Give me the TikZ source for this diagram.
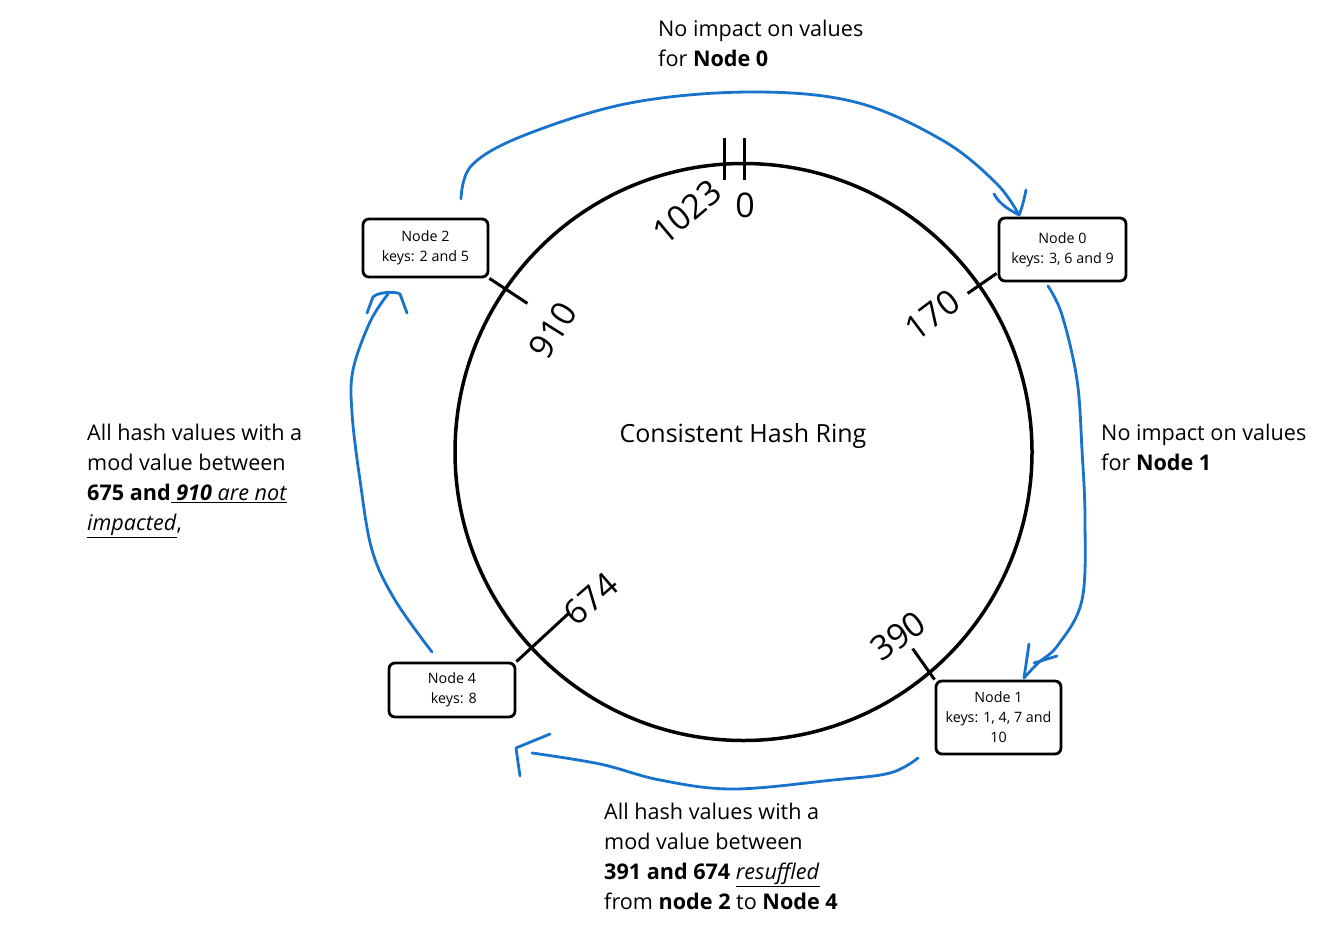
\documentclass[tikz,border=0pt]{standalone}
\usepackage{fontspec}
\setmainfont{Open Sans}
\definecolor{penblue}{RGB}{24,115,205}
\newcommand{\myul}[1]{\underline{#1}}
\begin{document}
\begin{tikzpicture}[x=1pt,y=-1pt,
  ring/.style={draw=black,line width=3.5pt,circle,minimum size=577pt,inner sep=0},
  nodebox/.style={draw=black,line width=2.8pt,rounded corners=6pt,inner sep=0,align=center,font=\fontsize{14.3}{20}\selectfont},
  tick/.style={draw=black,line width=3pt},
  ringnum/.style={font=\fontsize{34}{34}\selectfont,inner sep=0},
  note/.style={align=left,anchor=north west,inner sep=0,font=\fontsize{21.6}{30}\selectfont},
  pen/.style={draw=penblue,line width=2.8pt,line cap=round,line join=round}]
\useasboundingbox (0,0) rectangle (1335,934);
\fill[white] (0,0) rectangle (1335,934);

% ring
\node[ring] (ring) at (743.5,452) {};
\node[font=\fontsize{25}{25}\selectfont] (title) at (743,436) {Consistent Hash Ring};

% top marks 1023 | 0
\coordinate (t1a) at (724,138); \coordinate (t1b) at (724,180);
\coordinate (t2a) at (744,138); \coordinate (t2b) at (744,180);
\draw[tick] (t1a) -- (t1b);
\draw[tick] (t2a) -- (t2b);
\node[ringnum,rotate=40] (n1023) at (687,212) {1023};
\node[ringnum] (n0) at (745,205) {0};

% nodes
\node[nodebox,minimum width=125pt,minimum height=58pt] (node2) at (425.5,248) {Node 2\\keys: 2 and 5};
\node[nodebox,minimum width=127pt,minimum height=63pt] (node0) at (1062.5,249.5) {Node 0\\keys: 3, 6 and 9};
\node[nodebox,minimum width=126pt,minimum height=54pt] (node4) at (452,690) {Node 4\\\ keys: 8};
\node[nodebox,minimum width=125pt,minimum height=73pt] (node1) at (998.5,717.5) {Node 1\\keys: 1, 4, 7 and\\10};

% ring ticks from boxes
\draw[tick] (node2.south east) -- ++(38,25) coordinate (k910);
\draw[tick] (node0.south west) ++(-1,-9) -- ++(-29,20) coordinate (k170);
\draw[tick] (node4.north east) -- ++(52,-48) coordinate (k674);
\draw[tick] (node1.north west) -- ++(-22,-31) coordinate (k390);

\node[ringnum,rotate=58] (l910) at (553,330) {910};
\node[ringnum,rotate=37] (l170) at (932,315) {170};
\node[ringnum,rotate=41] (l674) at (591,599) {674};
\node[ringnum,rotate=35] (l390) at (898,636) {390};

% notes
\node[note] (top) at (658,20) {No impact on values\\for \textbf{Node 0}};
\node[note] (right) at (1101,424) {No impact on values\\for \textbf{Node 1}};
\node[note] (left) at (87,424) {All hash values with a\\mod value between\\\textbf{675 and}\myul{\textbf{\textit{ 910}}\textit{ are not}}\\\myul{\textit{impacted}},};
\node[note] (bottom) at (604,803) {All hash values with a\\mod value between\\\textbf{391 and 674} \myul{\textit{resuffled}}\\from \textbf{node 2} to \textbf{Node 4}};

% blue hand-drawn arrows
% node2 -> node0 (top)
\coordinate (a1s) at (461,199);
\coordinate (a1e) at (1019,215);
\draw[pen] plot[smooth,tension=0.6] coordinates {(a1s) (472,165) (525,135) (630,103) (750,92) (855,102) (942,140) (996,183) (a1e)};
\draw[pen] (994,194) .. controls (1000,205) and (1010,210) .. (a1e);
\draw[pen] (1026,190) .. controls (1024,200) and (1022,208) .. (a1e);

% node0 -> node1 (right)
\coordinate (a2s) at (1048,286);
\coordinate (a2e) at (1024,678);
\draw[pen] plot[smooth,tension=0.6] coordinates {(a2s) (1062,315) (1077,380) (1082,450) (1085,520) (1082,600) (1058,645) (1038,663) (a2e)};
\draw[pen] (1029,644) -- (1024,678);
\draw[pen] (1057,656) -- (1034,663);

% node1 -> node4 (bottom)
\coordinate (a3s) at (918,758);
\coordinate (a3e) at (532,753);
\draw[pen] plot[smooth,tension=0.6] coordinates {(a3s) (890,773) (833,780) (733,789) (660,780) (600,764) (a3e)};
\draw[pen] (550,734) -- (516,748) -- (520,776);

% node4 -> node2 (left)
\coordinate (a4s) at (432,652);
\coordinate (a4e) at (388,294);
\draw[pen] plot[smooth,tension=0.6] coordinates {(a4s) (395,600) (372,550) (360,480) (352,413) (353,370) (370,322) (a4e)};
\draw[pen] (367,313) -- (373,297) .. controls (378,292) and (395,291) .. (400,294) -- (407,313);
\end{tikzpicture}
\end{document}
